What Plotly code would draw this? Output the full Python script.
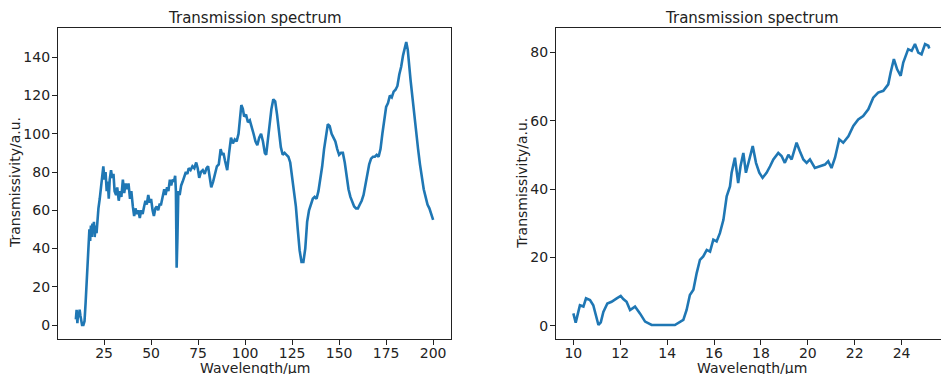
import plotly.graph_objects as go

# ---------------- data ----------------
left_wavelength = [
    10.0, 10.4, 10.8, 11.2, 11.6, 12.0, 12.4, 12.8, 13.3, 14.0, 14.6, 15.2, 15.8, 16.3, 16.8,
    17.2, 17.6, 18.0, 18.4, 18.8, 19.2, 19.6, 20.0, 20.5, 21.0, 21.5, 22.0, 22.7, 23.3, 24.0,
    24.6, 25.2, 25.8, 26.4, 27.0, 27.5, 28.0, 28.7, 29.3, 30.0, 30.6, 31.4, 32.0, 32.8, 33.5,
    34.2, 35.0, 35.7, 36.5, 37.2, 38.0, 38.8, 39.5, 40.3, 41.0, 41.7, 42.5, 43.2, 44.0, 44.7,
    45.5, 46.3, 47.0, 47.7, 48.5, 49.3, 50.0, 50.8, 51.5, 52.3, 53.0, 53.8, 54.5, 55.3, 56.0,
    57.0, 57.7, 58.5, 59.2, 60.0, 60.7, 61.4, 62.2, 62.8, 63.2, 63.6, 64.0, 64.5, 65.2, 66.0,
    66.8, 67.6, 68.5, 69.3, 70.0, 71.0, 72.0, 73.0, 74.0, 74.8, 75.6, 76.5, 77.5, 78.5, 79.5,
    80.3, 81.2, 82.0, 83.0, 84.0, 85.0, 86.0, 87.0, 87.8, 88.5, 89.3, 90.5, 91.5, 92.5, 93.5,
    94.5, 95.5, 96.5, 97.3, 98.0, 98.8, 99.5, 100.5, 101.5, 102.5, 103.5, 104.5, 105.5, 106.5,
    107.5, 108.5, 109.5, 110.5, 111.2, 112.0, 113.0, 114.0, 115.0, 116.0, 117.0, 118.0, 119.0,
    120.0, 121.0, 122.0, 123.0, 124.0, 125.0, 126.0, 127.0, 128.0, 129.0, 130.0, 131.0, 132.0,
    133.0, 134.0, 135.0, 136.0, 137.0, 138.0, 139.0, 140.0, 141.0, 142.0, 143.0, 144.0, 145.0,
    146.0, 147.0, 148.0, 149.0, 150.0, 151.0, 152.0, 153.0, 154.0, 155.0, 156.0, 157.0, 158.0,
    159.0, 160.0, 161.0, 162.0, 163.0, 164.0, 165.0, 166.0, 167.0, 168.0, 169.0, 170.0, 171.0,
    172.0, 173.0, 174.0, 175.0, 176.0, 177.0, 178.0, 179.0, 180.0, 181.0, 182.0, 183.0, 184.0,
    185.0, 185.7, 186.5, 187.0, 188.0, 189.0, 190.0, 191.0, 192.0, 193.0, 194.0, 195.0, 196.0,
    197.0, 198.0, 199.0, 200.0,
]
left_transmissivity = [
    3, 8, 1, 7, 4, 8, 5, 1, 0, 0, 2, 12, 22, 30, 42,
    50, 44, 52, 46, 53, 48, 54, 46, 52, 48, 58, 61, 66, 72, 78,
    83, 76, 80, 70, 75, 66, 76, 81, 77, 79, 70, 68, 72, 65, 70,
    67, 76, 69, 74, 71, 74, 66, 70, 62, 57, 61, 58, 60, 56, 60,
    58, 62, 65, 63, 68, 64, 66, 60, 57, 61, 62, 60, 63, 63, 67,
    71, 68, 72, 70, 76, 73, 76, 75, 78, 70, 30, 45, 70, 68, 73,
    75, 78, 80, 79, 82, 81, 83, 82, 85, 82, 77, 80, 81, 79, 82,
    83, 76, 72, 75, 80, 83, 84, 92, 89, 90, 86, 81, 90, 98, 95,
    97, 96, 100, 108, 115, 113, 109, 110, 106, 107, 104, 100, 96, 94,
    98, 100, 96, 90, 89, 96, 105, 113, 118, 117, 110, 100, 93,
    89, 90, 89, 88, 85, 78, 70, 62, 50, 39, 33, 33, 40,
    54, 60, 63, 66, 67, 66, 70, 76, 83, 92, 100, 105, 104,
    100, 98, 96, 92, 89, 90, 90, 85, 78, 71, 67, 64, 62,
    61, 61, 63, 65, 68, 74, 80, 84, 87, 88, 88, 89, 88,
    92, 100, 108, 114, 116, 120, 119, 122, 123, 125, 131, 135, 141,
    146, 148, 144, 138, 128, 119, 109, 100, 92, 84, 77, 71, 67,
    63, 61, 58, 55,
]

right_wavelength = [
    10.00, 10.10, 10.28, 10.43, 10.54, 10.71, 10.85, 10.97, 11.07, 11.17, 11.28, 11.45, 11.63,
    11.85, 12.02, 12.13, 12.27, 12.42, 12.63, 12.84, 13.06, 13.34, 13.70, 14.00, 14.33, 14.69,
    14.83, 14.97, 15.12, 15.26, 15.40, 15.54, 15.69, 15.83, 15.97, 16.11, 16.25, 16.40, 16.54,
    16.68, 16.75, 16.89, 17.03, 17.13, 17.25, 17.36, 17.50, 17.65, 17.79, 17.93, 18.07, 18.24,
    18.39, 18.53, 18.74, 18.88, 19.02, 19.17, 19.31, 19.52, 19.66, 19.81, 19.95, 20.09, 20.30,
    20.52, 20.73, 20.87, 21.01, 21.16, 21.34, 21.51, 21.73, 21.94, 22.15, 22.36, 22.58, 22.79,
    23.00, 23.22, 23.43, 23.53, 23.67, 23.81, 23.96, 24.07, 24.28, 24.43, 24.57, 24.71, 24.85,
    25.00, 25.14, 25.18,
]
right_transmissivity = [
    3.6, 0.9, 6.0, 5.6, 8.0, 7.5, 6.0, 2.6, 0.2, 1.0, 4.0, 6.5, 7.0,
    8.0, 8.7, 7.8, 7.0, 4.6, 5.6, 3.6, 1.2, 0.2, 0.2, 0.2, 0.2, 1.7,
    4.6, 9.0, 10.5, 15.4, 19.3, 20.3, 22.2, 21.7, 25.2, 24.7, 27.1, 31.0, 37.9,
    40.8, 44.8, 49.2, 41.8, 46.7, 50.6, 44.8, 48.7, 52.6, 47.7, 44.8, 43.3, 44.8,
    46.7, 48.7, 50.6, 49.7, 47.7, 50.1, 48.7, 53.6, 51.1, 48.7, 47.7, 48.7, 46.2,
    46.7, 47.2, 48.2, 46.2, 49.2, 54.6, 53.6, 55.5, 58.5, 60.4, 61.4, 63.4, 66.8,
    68.3, 68.8, 70.7, 74.1, 78.1, 75.1, 73.2, 77.1, 81.0, 80.5, 82.5, 80.0, 79.5,
    82.5, 82.0, 81.2,
]

left_xticks = [25, 50, 75, 100, 125, 150, 175, 200]
left_yticks = [0, 20, 40, 60, 80, 100, 120, 140]
right_xticks = [10, 12, 14, 16, 18, 20, 22, 24]
right_yticks = [0, 20, 40, 60, 80]

title_text = "Transmission spectrum"
xlabel_text = "Wavelength/μm"
ylabel_text = "Transmissivity/a.u."

# ---------------- figure ----------------
W, H = 941, 374
FONT = "DejaVu Sans"
LINE_COLOR = "#1f77b4"

fig = go.Figure()
fig.add_trace(go.Scatter(x=left_wavelength, y=left_transmissivity, mode="lines",
                         line=dict(color=LINE_COLOR, width=2.6), xaxis="x", yaxis="y",
                         showlegend=False, hoverinfo="skip"))
fig.add_trace(go.Scatter(x=right_wavelength, y=right_transmissivity, mode="lines",
                         line=dict(color=LINE_COLOR, width=2.6), xaxis="x2", yaxis="y2",
                         showlegend=False, hoverinfo="skip"))

def px_x(p):
    return p / W

def px_y(p):
    return 1 - p / H

ydom = [px_y(339), px_y(28)]
axis_common = dict(showgrid=False, zeroline=False, showline=True, linecolor="#222",
                   linewidth=1.3, ticks="outside", ticklen=5, tickwidth=1.1, tickcolor="#222",
                   automargin=False,
                   tickfont=dict(family=FONT, size=14, color="#222"))
xstand = dict(ticklabelstandoff=-4)
ystand = dict(ticklabelstandoff=-1)

fig.update_layout(
    width=W, height=H, autosize=False,
    margin=dict(l=0, r=0, t=0, b=0),
    paper_bgcolor="white", plot_bgcolor="white",
    font=dict(family=FONT, size=14, color="#222"),
    xaxis=dict(domain=[px_x(58), px_x(451)], range=[0.5, 209.5], tickvals=left_xticks,
               mirror=True, anchor="y", **axis_common, **xstand),
    yaxis=dict(domain=ydom, range=[-7.3, 155.3], tickvals=left_yticks,
               mirror=True, anchor="x", **axis_common, **ystand),
    xaxis2=dict(domain=[px_x(556), 1.0], range=[9.26, 25.68], tickvals=right_xticks,
                mirror=True, anchor="y2", **axis_common, **xstand),
    yaxis2=dict(domain=ydom, range=[-3.9, 87.2], tickvals=right_yticks,
                mirror=False, anchor="x2", **axis_common, **ystand),
)

annotations = []
for cx, ylx in [(254.7, 15), (751.8, 521.7)]:
    annotations.append(dict(text=title_text, x=px_x(cx), y=px_y(18.5), xref="paper", yref="paper",
                            xanchor="center", yanchor="middle", showarrow=False,
                            font=dict(family=FONT, size=15, color="#222")))
    annotations.append(dict(text=xlabel_text, x=px_x(cx), y=px_y(367.5), xref="paper", yref="paper",
                            xanchor="center", yanchor="middle", showarrow=False,
                            font=dict(family=FONT, size=14, color="#222")))
    annotations.append(dict(text=ylabel_text, x=px_x(ylx), y=px_y(183), xref="paper", yref="paper",
                            xanchor="center", yanchor="middle", showarrow=False, textangle=-90,
                            font=dict(family=FONT, size=14, color="#222")))
fig.update_layout(annotations=annotations)

fig.write_html("out.html", config={"displayModeBar": False},
               post_script="document.body.style.margin='0';document.body.style.overflow='hidden';")
